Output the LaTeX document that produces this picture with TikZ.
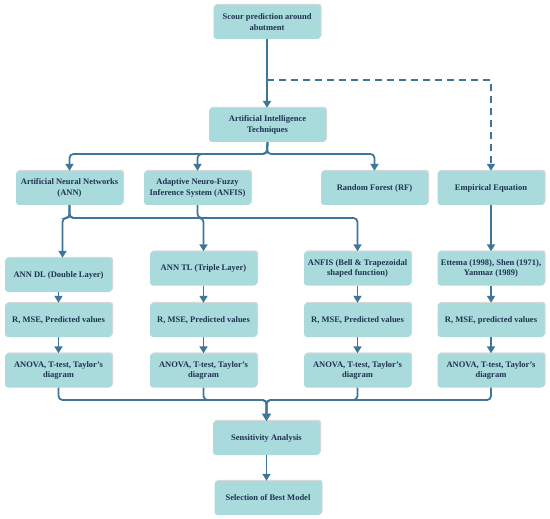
\documentclass[tikz,border=0pt]{standalone}
\usepackage{fontspec}
\setmainfont{Liberation Serif}
\usetikzlibrary{arrows.meta,shadows}
\definecolor{boxfill}{HTML}{A9DADC}
\definecolor{linec}{HTML}{3E7599}
\definecolor{txtc}{HTML}{1F3352}
\tikzset{
  box/.style={rectangle, rounded corners=3pt, fill=boxfill, minimum width=107pt, minimum height=34pt,
    inner sep=1pt, align=center, text=txtc, font=\bfseries\fontsize{8.5}{10.5}\selectfont,
    drop shadow={shadow xshift=1.2pt, shadow yshift=1.2pt, fill=black!30, opacity=0.5}},
  conn/.style={draw=linec, line width=1.8pt, rounded corners=4pt},
  arr/.style={conn, -{Triangle[width=8pt,length=7pt]}},
  darr/.style={arr, dash pattern=on 7pt off 5pt, rounded corners=0pt}
}
\begin{document}
\begin{tikzpicture}[x=1pt,y=-1pt]
\useasboundingbox (0,0) rectangle (550,519);
% nodes
\node[box] (scour) at (267,22) {Scour prediction around\\abutment};
\node[box, minimum width=117pt] (ai) at (267.5,125) {Artificial Intelligence\\Techniques};
\node[box] (ann) at (69.5,188) {Artificial Neural Networks\\(ANN)};
\node[box] (anfis) at (197.5,188) {Adaptive Neuro-Fuzzy\\Inference System (ANFIS)};
\node[box] (rf) at (374.5,188) {Random Forest (RF)};
\node[box] (emp) at (491,188) {Empirical Equation};
\node[box] (anndl) at (58.5,275) {ANN DL (Double Layer)};
\node[box] (anntl) at (203.5,268.5) {ANN TL (Triple Layer)};
\node[box] (anfisb) at (357.5,268.5) {ANFIS (Bell \& Trapezoidal\\shaped function)};
\node[box] (ett) at (491,268.5) {Ettema (1998), Shen (1971),\\Yanmaz (1989)};
\node[box] (r1) at (58.5,320) {R, MSE, Predicted values};
\node[box] (r2) at (203.5,320) {R, MSE, Predicted values};
\node[box] (r3) at (357.5,320) {R, MSE, Predicted values};
\node[box] (r4) at (491,320) {R, MSE, predicted values};
\node[box] (a1) at (58.5,370.5) {ANOVA, T-test, Taylor's\\diagram};
\node[box] (a2) at (203.5,370.5) {ANOVA, T-test, Taylor's\\diagram};
\node[box] (a3) at (357.5,370.5) {ANOVA, T-test, Taylor's\\diagram};
\node[box] (a4) at (491,370.5) {ANOVA, T-test, Taylor's\\diagram};
\node[box] (sens) at (266.5,438) {Sensitivity Analysis};
\node[box] (sel) at (268,498) {Selection of Best Model};
% junction coordinates
\coordinate (d1) at (267,80);
\coordinate (j1) at (267,154);
\coordinate (j2) at (69.5,218);
\coordinate (j3) at (266.5,400);
% connectors
\draw[arr] (scour.south) -- (scour.south |- ai.north);
\draw[darr] (d1) -| (emp.north);
\draw[arr] (ai.south) -- (j1) -| (ann.north);
\draw[arr] (ai.south) -- (j1) -| (anfis.north);
\draw[arr] (ai.south) -- (j1) -| (rf.north);
\draw[arr] (ann.south) -- (j2) -| ([xshift=4pt]anndl.north);
\draw[arr] (ann.south) -- (j2) -| (anntl.north);
\draw[arr] (ann.south) -- (j2) -| (anfisb.north);
\draw[conn] (anfis.south) |- ([xshift=6pt]anfis.south |- j2);
\draw[arr] (emp) -- (ett);
\foreach \a/\b in {anndl/r1,anntl/r2,anfisb/r3,ett/r4,r1/a1,r2/a2,r3/a3,r4/a4}
  \draw[arr] (\a) -- (\b);
\foreach \a in {a1,a2,a3,a4}
  \draw[arr] (\a.south) |- (j3) -- (sens.north);
\draw[arr] (sens.south) -- (sens.south |- sel.north);
\end{tikzpicture}
\end{document}
